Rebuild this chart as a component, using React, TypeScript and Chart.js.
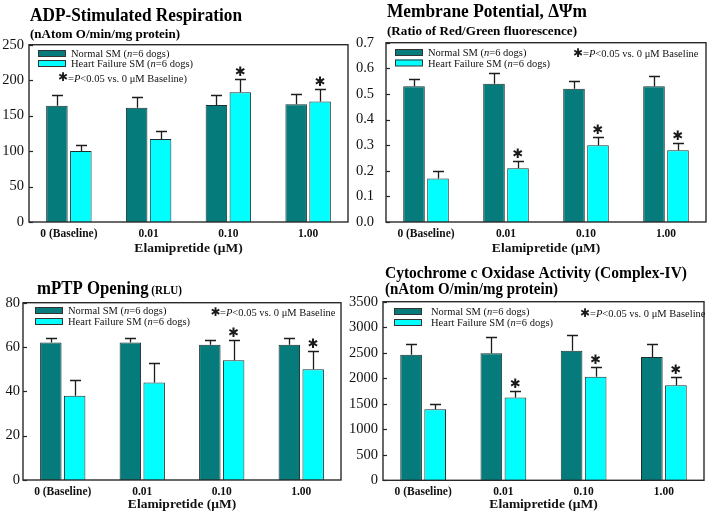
import React, { useEffect, useRef } from "react";
import { Chart, registerables } from "chart.js";

Chart.register(...registerables);

const SERIF = "'Liberation Serif', 'Times New Roman', serif";
const STARFONT = "'DejaVu Sans', sans-serif";
const TEAL = "#067b7b";
const CYAN = "#00ffff";

// ---------- data ----------
const categories = ["0 (Baseline)", "0.01", "0.10", "1.00"];
const seriesNames = ["Normal SM", "Heart Failure SM"];
const xAxisTitle = "Elamipretide (\u03bcM)";

// ADP-stimulated respiration
const adpNormal = [164, 161, 165, 166];
const adpNormalSE = [15, 15, 13.5, 15];
const adpHF = [100, 117, 183, 170];
const adpHFSE = [9, 11, 18, 17];
const adpStars = [false, false, true, true];
const adpYTicks = [0, 50, 100, 150, 200, 250];

// Membrane potential
const mmpNormal = [0.53, 0.54, 0.52, 0.53];
const mmpNormalSE = [0.03, 0.04, 0.03, 0.04];
const mmpHF = [0.17, 0.21, 0.3, 0.28];
const mmpHFSE = [0.03, 0.03, 0.03, 0.03];
const mmpStars = [false, true, true, true];
const mmpYTicks = [0, 0.1, 0.2, 0.3, 0.4, 0.5, 0.6, 0.7];

// mPTP opening
const mptpNormal = [62, 62, 61, 61];
const mptpNormalSE = [2, 2, 2, 3];
const mptpHF = [38, 44, 54, 50];
const mptpHFSE = [7, 9, 9, 8];
const mptpStars = [false, false, true, true];
const mptpYTicks = [0, 20, 40, 60, 80];

// Cytochrome c oxidase
const coxNormal = [2460, 2490, 2540, 2415];
const coxNormalSE = [210, 310, 315, 265];
const coxHF = [1390, 1625, 2030, 1865];
const coxHFSE = [110, 125, 190, 165];
const coxStars = [false, true, true, true];
const coxYTicks = [0, 500, 1000, 1500, 2000, 2500, 3000, 3500];

// ---------- panel layout ----------
type Seg = { t: string; size: number; it?: boolean; bold?: boolean };
type TitleLine = { segs: Seg[]; x: number; y: number; w: number };
interface Panel {
  box: [number, number, number, number];
  area: [number, number, number, number];
  normal: number[];
  normalSE: number[];
  hf: number[];
  hfSE: number[];
  stars: boolean[];
  yTicks: number[];
  dec: number;
  tickPad: number;
  titles: TitleLine[];
  legBoxX: number;
  legRows: number[];
  legTextX: number;
  starX: number;
  starTextX: number;
  starY: number;
  starTail: string;
  xTitleDy: number;
}

const panels: Panel[] = [
  {
    box: [0, 0, 354, 258],
    area: [29, 44.7, 348, 222],
    normal: adpNormal, normalSE: adpNormalSE, hf: adpHF, hfSE: adpHFSE, stars: adpStars,
    yTicks: adpYTicks, dec: 0, tickPad: 5,
    titles: [
      { segs: [{ t: "ADP-Stimulated Respiration", size: 19, bold: true }], x: 30, y: 21, w: 212 },
      { segs: [{ t: "(nAtom O/min/mg protein)", size: 13.5, bold: true }], x: 30, y: 38, w: 150 },
    ],
    legBoxX: 38, legRows: [50, 60], legTextX: 71,
    starX: 63, starTextX: 68, starY: 81.5, starTail: ")",
    xTitleDy: 30,
  },
  {
    box: [354, 0, 355, 258],
    area: [32, 42.7, 352, 222],
    normal: mmpNormal, normalSE: mmpNormalSE, hf: mmpHF, hfSE: mmpHFSE, stars: mmpStars,
    yTicks: mmpYTicks, dec: 1, tickPad: 12,
    titles: [
      { segs: [{ t: "Membrane Potential, \u0394\u03a8m", size: 19, bold: true }], x: 33, y: 17, w: 200 },
      { segs: [{ t: "(Ratio of Red/Green fluorescence)", size: 13.5, bold: true }], x: 33, y: 35, w: 190 },
    ],
    legBoxX: 41, legRows: [49, 59.5], legTextX: 74,
    starX: 224, starTextX: 229, starY: 57, starTail: "",
    xTitleDy: 30,
  },
  {
    box: [0, 258, 344, 257],
    area: [23, 44.7, 341, 222],
    normal: mptpNormal, normalSE: mptpNormalSE, hf: mptpHF, hfSE: mptpHFSE, stars: mptpStars,
    yTicks: mptpYTicks, dec: 0, tickPad: 3,
    titles: [
      {
        segs: [
          { t: "mPTP Opening", size: 19, bold: true },
          { t: " (RLU)", size: 12.5, bold: true },
        ],
        x: 37, y: 36, w: 145,
      },
    ],
    legBoxX: 35, legRows: [49, 60], legTextX: 68,
    starX: 215.5, starTextX: 220, starY: 58, starTail: "",
    xTitleDy: 28,
  },
  {
    box: [344, 258, 365, 257],
    area: [39, 43.7, 360, 222.3],
    normal: coxNormal, normalSE: coxNormalSE, hf: coxHF, hfSE: coxHFSE, stars: coxStars,
    yTicks: coxYTicks, dec: 0, tickPad: 5,
    titles: [
      { segs: [{ t: "Cytochrome c Oxidase Activity (Complex-IV)", size: 17.5, bold: true }], x: 41, y: 20, w: 302 },
      { segs: [{ t: "(nAtom O/min/mg protein)", size: 17.5, bold: true }], x: 41, y: 36, w: 173 },
    ],
    legBoxX: 50, legRows: [50, 61], legTextX: 87,
    starX: 241, starTextX: 246, starY: 59, starTail: "",
    xTitleDy: 28,
  },
];

// ---------- drawing helpers ----------
function fontOf(s: Seg) {
  return `${s.it ? "italic " : ""}${s.bold ? "bold " : ""}${s.size}px ${SERIF}`;
}

function drawRich(ctx: CanvasRenderingContext2D, segs: Seg[], x: number, y: number, target?: number) {
  let total = 0;
  for (const s of segs) {
    ctx.font = fontOf(s);
    total += ctx.measureText(s.t).width;
  }
  let sx = 1;
  if (target) sx = Math.max(0.75, Math.min(1.25, target / total));
  ctx.save();
  ctx.translate(x, y);
  ctx.scale(sx, 1);
  ctx.textAlign = "left";
  ctx.textBaseline = "alphabetic";
  let cx = 0;
  for (const s of segs) {
    ctx.font = fontOf(s);
    ctx.fillText(s.t, cx, 0);
    cx += ctx.measureText(s.t).width;
  }
  ctx.restore();
}

function drawStar(ctx: CanvasRenderingContext2D, cx: number, bottom: number, size: number) {
  ctx.save();
  ctx.font = `bold ${size}px ${STARFONT}`;
  ctx.textAlign = "center";
  ctx.textBaseline = "alphabetic";
  const m = ctx.measureText("\u2731");
  const base = bottom - m.actualBoundingBoxDescent;
  ctx.fillStyle = "#1a1a1a";
  ctx.fillText("\u2731", cx, base);
  ctx.restore();
}

function makePlugin(p: Panel) {
  return {
    id: "panelDecor",
    afterDatasetsDraw(chart: any) {
      const ctx: CanvasRenderingContext2D = chart.ctx;
      const ys = chart.scales.y;
      ctx.save();
      ctx.strokeStyle = "#1c1c1c";
      ctx.lineWidth = 1.3;
      const sets: [number[], number[]][] = [
        [p.normal, p.normalSE],
        [p.hf, p.hfSE],
      ];
      sets.forEach(([vals, se], di) => {
        const meta = chart.getDatasetMeta(di);
        meta.data.forEach((bar: any, j: number) => {
          const x = Math.round(bar.x) + 0.5;
          const y0 = ys.getPixelForValue(vals[j]);
          const y1 = Math.round(ys.getPixelForValue(vals[j] + se[j])) + 0.5;
          ctx.beginPath();
          ctx.moveTo(x, y0);
          ctx.lineTo(x, y1);
          ctx.moveTo(x - 5.5, y1);
          ctx.lineTo(x + 5.5, y1);
          ctx.stroke();
          if (di === 1 && p.stars[j]) drawStar(ctx, bar.x, y1 - 4, 13);
        });
      });
      ctx.restore();
    },
    afterDraw(chart: any) {
      const ctx: CanvasRenderingContext2D = chart.ctx;
      const a = chart.chartArea;
      const ys = chart.scales.y;
      ctx.save();
      // inward y ticks
      ctx.strokeStyle = "#222";
      ctx.lineWidth = 1.2;
      ys.ticks.forEach((t: any) => {
        const py = Math.round(ys.getPixelForValue(t.value)) + 0.5;
        ctx.beginPath();
        ctx.moveTo(a.left, py);
        ctx.lineTo(a.left + 4, py);
        ctx.stroke();
      });
      // frame
      ctx.strokeStyle = "#2a2a2a";
      ctx.lineWidth = 1.4;
      ctx.strokeRect(a.left, a.top, a.right - a.left, a.bottom - a.top);
      ctx.fillStyle = "#000";
      // titles
      p.titles.forEach((tl) => drawRich(ctx, tl.segs, tl.x, tl.y, tl.w));
      // x axis title
      ctx.font = `bold 13.5px ${SERIF}`;
      ctx.textAlign = "center";
      ctx.textBaseline = "alphabetic";
      ctx.fillStyle = "#111";
      ctx.fillText(xAxisTitle, (a.left + a.right) / 2, a.bottom + p.xTitleDy);
      // legend
      const colors = [TEAL, CYAN];
      p.legRows.forEach((ry, i) => {
        ctx.fillStyle = colors[i];
        ctx.fillRect(p.legBoxX, ry, 28, 6.5);
        ctx.strokeStyle = "#333";
        ctx.lineWidth = 1;
        ctx.strokeRect(p.legBoxX + 0.5, ry + 0.5, 27, 6);
        ctx.fillStyle = "#111";
        drawRich(
          ctx,
          [
            { t: `${seriesNames[i]} (`, size: 10.5 },
            { t: "n", size: 10.5, it: true },
            { t: "=6 dogs)", size: 10.5 },
          ],
          p.legTextX,
          ry + 7
        );
      });
      drawStar(ctx, p.starX, p.starY - 0.5, 12);
      ctx.fillStyle = "#111";
      drawRich(
        ctx,
        [
          { t: "=", size: 10.5 },
          { t: "P", size: 10.5, it: true },
          { t: "<0.05 vs. 0 \u03bcM Baseline" + p.starTail, size: 10.5 },
        ],
        p.starTextX,
        p.starY
      );
      ctx.restore();
    },
  };
}

function PanelChart({ p }: { p: Panel }) {
  const ref = useRef<HTMLCanvasElement>(null);
  useEffect(() => {
    const [, , W, H] = p.box;
    const [l, t, r, b] = p.area;
    const yMax = p.yTicks[p.yTicks.length - 1];
    const chart = new Chart(ref.current as HTMLCanvasElement, {
      type: "bar",
      data: {
        labels: categories,
        datasets: [
          {
            label: seriesNames[0],
            data: p.normal,
            backgroundColor: TEAL,
            borderColor: "#1a3030",
            borderWidth: 1,
            categoryPercentage: 0.6,
            barPercentage: 0.9,
          },
          {
            label: seriesNames[1],
            data: p.hf,
            backgroundColor: CYAN,
            borderColor: "#1a3030",
            borderWidth: 1,
            categoryPercentage: 0.6,
            barPercentage: 0.9,
          },
        ],
      },
      options: {
        animation: false,
        responsive: false,
        maintainAspectRatio: false,
        events: [],
        layout: { padding: { top: t, right: W - r, left: 0, bottom: 0 } },
        plugins: {
          legend: { display: false },
          tooltip: { enabled: false },
          title: { display: false },
        },
        scales: {
          x: {
            grid: { display: false, drawTicks: false },
            border: { display: false },
            ticks: {
              font: { family: SERIF, weight: "bold", size: 11.5 },
              color: "#111",
              padding: 5,
              maxRotation: 0,
              autoSkip: false,
            },
            afterFit: (s: any) => {
              s.height = H - b;
            },
          },
          y: {
            min: 0,
            max: yMax,
            afterBuildTicks: (s: any) => {
              s.ticks = p.yTicks.map((v) => ({ value: v }));
            },
            grid: { display: false, drawTicks: false },
            border: { display: false },
            ticks: {
              font: { family: SERIF, size: 14.5 },
              color: "#111",
              padding: p.tickPad,
              callback: (v: any) => Number(v).toFixed(p.dec),
            },
            afterFit: (s: any) => {
              s.width = l;
            },
          },
        },
      } as any,
      plugins: [makePlugin(p)],
    });
    return () => chart.destroy();
  }, [p]);
  const [left, top, w, h] = p.box;
  return (
    <canvas
      ref={ref}
      width={w}
      height={h}
      style={{ position: "absolute", left, top, width: w, height: h }}
    />
  );
}

export default function App() {
  return (
    <div style={{ position: "absolute", left: 0, top: 0, width: 709, height: 515, background: "#fff" }}>
      {panels.map((p, i) => (
        <PanelChart key={i} p={p} />
      ))}
    </div>
  );
}
